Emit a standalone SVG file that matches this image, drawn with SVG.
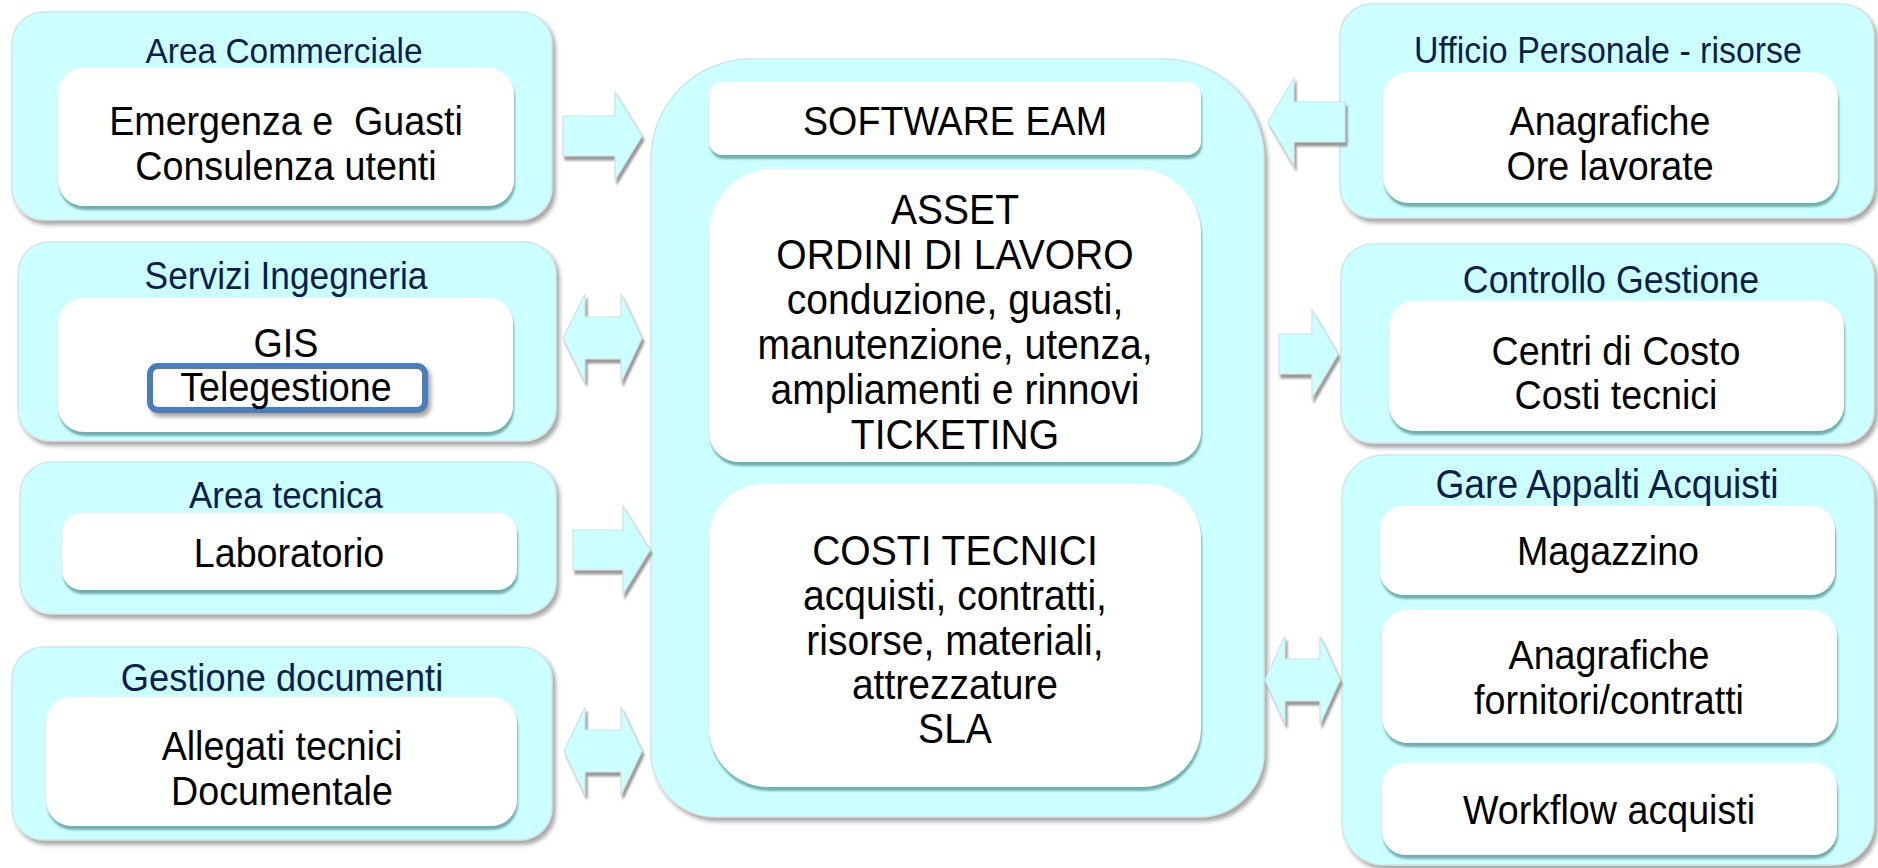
<svg xmlns="http://www.w3.org/2000/svg" width="1878" height="868" viewBox="0 0 1878 868">
  <defs>
    <filter id="outerShadow" x="-10%" y="-10%" width="125%" height="130%">
      <feDropShadow dx="3" dy="4" stdDeviation="2" flood-color="#808080" flood-opacity="0.7"/>
    </filter>
    <filter id="innerShadow" x="-10%" y="-10%" width="125%" height="135%">
      <feDropShadow dx="1" dy="4" stdDeviation="1.2" flood-color="#4f8a8a" flood-opacity="0.7"/>
    </filter>
    <filter id="arrowShadow" x="-10%" y="-10%" width="125%" height="130%">
      <feDropShadow dx="2" dy="4" stdDeviation="1.2" flood-color="#808080" flood-opacity="0.8"/>
    </filter>
  </defs>
  <style>
    .outer { fill: #ccffff; stroke: #d2e6e6; stroke-width: 1.5; filter: url(#outerShadow); }
    .inner { fill: #ffffff; filter: url(#innerShadow); }
    .arrow { fill: #ccffff; stroke: #d0e2e2; stroke-width: 1.2; filter: url(#arrowShadow); }
    .title, .body { font-family: "Liberation Sans", Arial, sans-serif; text-anchor: middle;
                    transform-box: fill-box; transform-origin: center; transform: scaleX(0.93); }
    .title { font-size: 37px; fill: #0c1e4a; }
    .body { font-size: 40.5px; fill: #000000; }
    .big { font-size: 42px; }
    .hilite { fill: #ffffff; stroke: #4a7ebb; stroke-width: 6; filter: url(#outerShadow); }
  </style>

  <rect width="1878" height="868" fill="#ffffff"/>

  <!-- left column -->
  <g id="area-commerciale">
    <rect class="outer" x="12" y="12" width="540" height="208" rx="32"/>
    <text class="title" x="284" y="63" style="font-size:36px">Area Commerciale</text>
    <rect class="inner" x="58" y="68" width="456" height="138" rx="26"/>
    <text class="body" x="286" y="135" xml:space="preserve">Emergenza e  Guasti</text>
    <text class="body" x="286" y="180">Consulenza utenti</text>
  </g>

  <g id="servizi-ingegneria">
    <rect class="outer" x="18" y="242" width="538" height="199" rx="32"/>
    <text class="title" x="286" y="289" style="font-size:38px">Servizi Ingegneria</text>
    <rect class="inner" x="58" y="298" width="455" height="134" rx="26"/>
    <text class="body" x="286" y="357">GIS</text>
    <rect class="hilite" x="150" y="366" width="275" height="44" rx="8"/>
    <text class="body" x="286" y="401">Telegestione</text>
  </g>

  <g id="area-tecnica">
    <rect class="outer" x="20" y="462" width="536" height="152" rx="32"/>
    <text class="title" x="286" y="508" style="font-size:37.5px">Area tecnica</text>
    <rect class="inner" x="62" y="513" width="455" height="77" rx="20"/>
    <text class="body" x="289" y="567">Laboratorio</text>
  </g>

  <g id="gestione-documenti">
    <rect class="outer" x="12" y="647" width="540" height="193" rx="32"/>
    <text class="title" x="282" y="691" style="font-size:39px">Gestione documenti</text>
    <rect class="inner" x="46" y="697" width="471" height="129" rx="26"/>
    <text class="body" x="282" y="760">Allegati tecnici</text>
    <text class="body" x="282" y="805">Documentale</text>
  </g>

  <!-- central system -->
  <g id="software-eam">
    <path class="outer" d="M751 59 H1164 A100 100 0 0 1 1264 159 V752 A65 65 0 0 1 1199 817 H716 A65 65 0 0 1 651 752 V159 A100 100 0 0 1 751 59 Z"/>
    <rect class="inner" x="709" y="82" width="492" height="73" rx="14"/>
    <text class="body" x="955" y="135">SOFTWARE EAM</text>
  </g>

  <g id="asset-ordini">
    <path class="inner" d="M774 169 H1136 A65 65 0 0 1 1201 234 V432 A30 30 0 0 1 1171 462 H739 A30 30 0 0 1 709 432 V234 A65 65 0 0 1 774 169 Z"/>
    <text class="body big" x="955" y="224">ASSET</text>
    <text class="body big" x="955" y="269">ORDINI DI LAVORO</text>
    <text class="body big" x="955" y="314">conduzione, guasti,</text>
    <text class="body big" x="955" y="359">manutenzione, utenza,</text>
    <text class="body big" x="955" y="404">ampliamenti e rinnovi</text>
    <text class="body big" x="955" y="449">TICKETING</text>
  </g>

  <g id="costi-tecnici">
    <path class="inner" d="M764 484 H1146 A55 55 0 0 1 1201 539 V727 A60 60 0 0 1 1141 787 H769 A60 60 0 0 1 709 727 V539 A55 55 0 0 1 764 484 Z"/>
    <text class="body big" x="955" y="565">COSTI TECNICI</text>
    <text class="body big" x="955" y="610">acquisti, contratti,</text>
    <text class="body big" x="955" y="655">risorse, materiali,</text>
    <text class="body big" x="955" y="699">attrezzature</text>
    <text class="body big" x="955" y="743">SLA</text>
  </g>

  <!-- right column -->
  <g id="ufficio-personale">
    <rect class="outer" x="1340" y="4" width="534" height="214" rx="32"/>
    <text class="title" x="1608" y="63" style="font-size:36.5px">Ufficio Personale - risorse</text>
    <rect class="inner" x="1383" y="72" width="455" height="131" rx="26"/>
    <text class="body" x="1610" y="135">Anagrafiche</text>
    <text class="body" x="1610" y="180">Ore lavorate</text>
  </g>

  <g id="controllo-gestione">
    <rect class="outer" x="1341" y="244" width="533" height="199" rx="32"/>
    <text class="title" x="1611" y="293" style="font-size:38.5px">Controllo Gestione</text>
    <rect class="inner" x="1389" y="301" width="455" height="130" rx="26"/>
    <text class="body" x="1616" y="365">Centri di Costo</text>
    <text class="body" x="1616" y="409">Costi tecnici</text>
  </g>

  <g id="gare-appalti">
    <rect class="outer" x="1342" y="455" width="532" height="410" rx="42"/>
    <text class="title" x="1607" y="498" style="font-size:40px">Gare Appalti Acquisti</text>
    <rect class="inner" x="1380" y="506" width="455" height="89" rx="24"/>
    <text class="body" x="1608" y="565">Magazzino</text>
    <rect class="inner" x="1382" y="610" width="455" height="133" rx="26"/>
    <text class="body" x="1609" y="669">Anagrafiche</text>
    <text class="body" x="1609" y="714">fornitori/contratti</text>
    <rect class="inner" x="1382" y="763" width="455" height="92" rx="24"/>
    <text class="body" x="1609" y="824">Workflow acquisti</text>
  </g>

  <!-- block arrows between the areas and the central system -->
  <g id="connectors">
    <polygon class="arrow" points="563,116 615,116 615,92 642,136 615,180 615,156 563,156"/>
    <polygon class="arrow" points="563,338 585,294 585,317 621,317 621,294 642,338 621,382 621,359 585,359 585,382"/>
    <polygon class="arrow" points="573,530 623,530 623,506 650,550 623,594 623,570 573,570"/>
    <polygon class="arrow" points="564,751 585,707 585,730 621,730 621,707 642,751 621,795 621,772 585,772 585,795"/>
    <polygon class="arrow" points="1345,102 1294,102 1294,78 1268,122 1294,166 1294,142 1345,142"/>
    <polygon class="arrow" points="1279,334 1312,334 1312,310 1338,354 1312,398 1312,374 1279,374"/>
    <polygon class="arrow" points="1265,680 1285,636 1285,659 1320,659 1320,636 1340,680 1320,724 1320,701 1285,701 1285,724"/>
  </g>
</svg>
